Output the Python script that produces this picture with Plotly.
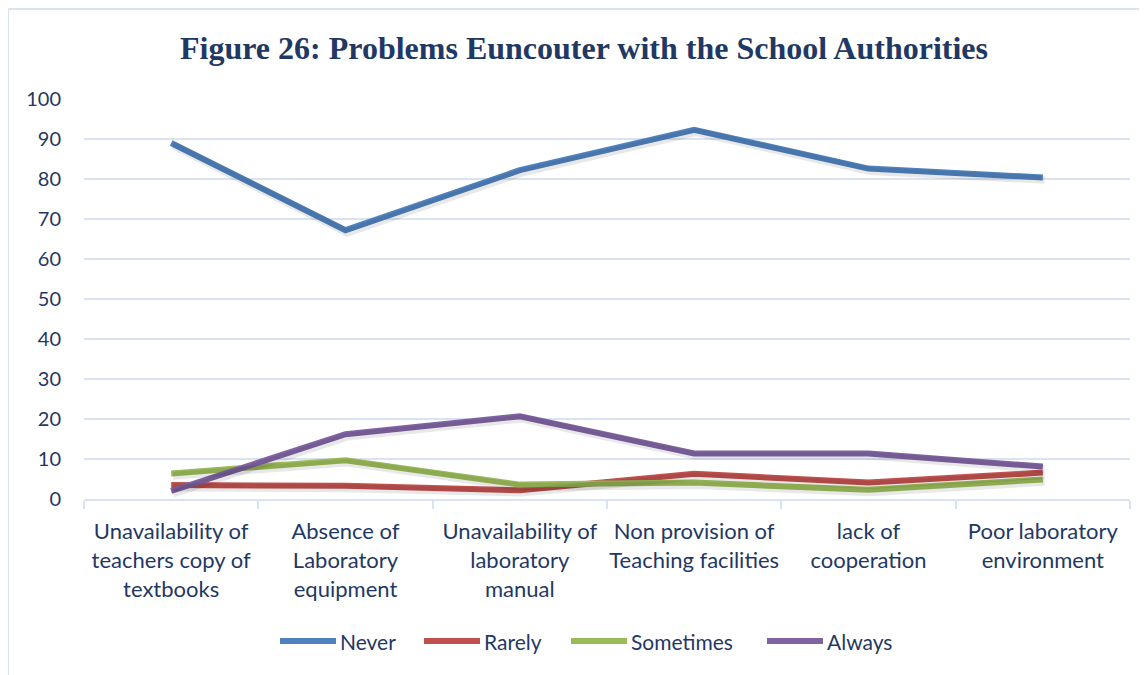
import plotly.graph_objects as go

categories = [
    "Unavailability of<br>teachers copy of<br>textbooks",
    "Absence of<br>Laboratory<br>equipment",
    "Unavailability of<br>laboratory<br>manual",
    "Non provision of<br>Teaching facilities",
    "lack of<br>cooperation",
    "Poor laboratory<br>environment",
]
never = [89.0, 67.2, 82.2, 92.3, 82.6, 80.4]
rarely = [3.5, 3.3, 2.2, 6.3, 4.1, 6.6]
sometimes = [6.4, 9.7, 3.6, 4.1, 2.3, 4.9]
always = [2.0, 16.2, 20.7, 11.4, 11.4, 8.1]

series_names = ["Never", "Rarely", "Sometimes", "Always"]
series_values = [never, rarely, sometimes, always]
series_colors = ["#4F81BD", "#C0504D", "#9BBB59", "#8064A2"]

text_color = "#1F3864"
grid_color = "#D9E3F1"

L, T, R, B = 76, 91, 25, 184
W, H = 1147, 675
pw, ph = W - L - R, H - T - B

fig = go.Figure()
# soft shadows (same data on slightly offset overlay axes)
for name, vals in zip(series_names, series_values):
    fig.add_trace(go.Scatter(
        x=categories, y=vals, mode="lines", showlegend=False, hoverinfo="skip",
        line=dict(color="rgba(0,0,0,0.09)", width=8),
        xaxis="x2", yaxis="y2",
    ))
for name, vals, color in zip(series_names, series_values, series_colors):
    fig.add_trace(go.Scatter(
        x=categories, y=vals, name=name, mode="lines",
        line=dict(color=color, width=6), showlegend=False,
    ))

fig.update_layout(
    width=W, height=H,
    margin=dict(l=L, r=R, t=T, b=B, autoexpand=False),
    paper_bgcolor="white", plot_bgcolor="white",
    title=dict(
        text="<b>Figure 26: Problems Euncouter with the School Authorities</b>",
        font=dict(family="Liberation Serif", size=32, color=text_color),
        x=576 / W, xanchor="center", y=1 - 40 / H, yanchor="middle",
    ),
    font=dict(family="Lato", size=21, color=text_color),
    showlegend=False,
    xaxis=dict(
        type="category", range=[-0.5, 5.5], categoryarray=categories,
        showgrid=False, showline=True, linecolor=grid_color, linewidth=2,
        ticks="outside", tickson="boundaries", ticklen=8, tickcolor=grid_color, tickwidth=2,
        ticklabelstandoff=12, automargin=False, tickangle=0,
        tickfont=dict(size=22, color=text_color, family="Lato"),
    ),
    yaxis=dict(
        range=[0, 100], dtick=10, showgrid=True, gridcolor=grid_color, gridwidth=2,
        zeroline=False, showline=False, ticks="", ticklabelstandoff=22, automargin=False,
        tickfont=dict(size=20, color=text_color, family="Lato"),
    ),
    xaxis2=dict(type="category", range=[-0.5 - 0.01, 5.5 - 0.01], overlaying="x",
                visible=False, categoryarray=categories),
    yaxis2=dict(range=[0.6, 100.6], overlaying="y", visible=False),
)

# custom legend (longer key lines like the original)
legend_x = [280, 424, 571, 767]  # page pixel positions of key starts
legend_y = 641
for name, color, px in zip(series_names, series_colors, legend_x):
    x0 = (px - 8 - L) / pw
    x1 = (px + 56 - 8 - L) / pw
    yy = -(legend_y - 8 - (T + ph)) / ph
    fig.add_shape(type="line", xref="paper", yref="paper", x0=x0, x1=x1, y0=yy, y1=yy,
                  line=dict(color=color, width=6))
    fig.add_annotation(xref="paper", yref="paper", x=x1, y=yy, text=name,
                       showarrow=False, xanchor="left", yanchor="middle", xshift=2,
                       font=dict(size=21, color=text_color, family="Lato"))

fig.add_shape(type="rect", xref="paper", yref="paper",
              x0=-L / pw, x1=(W + 20 - L) / pw, y0=-(B + 20) / ph, y1=1 + (T - 1) / ph,
              line=dict(color="#D9E3F1", width=2), layer="below")

fig.write_html("out.html")
